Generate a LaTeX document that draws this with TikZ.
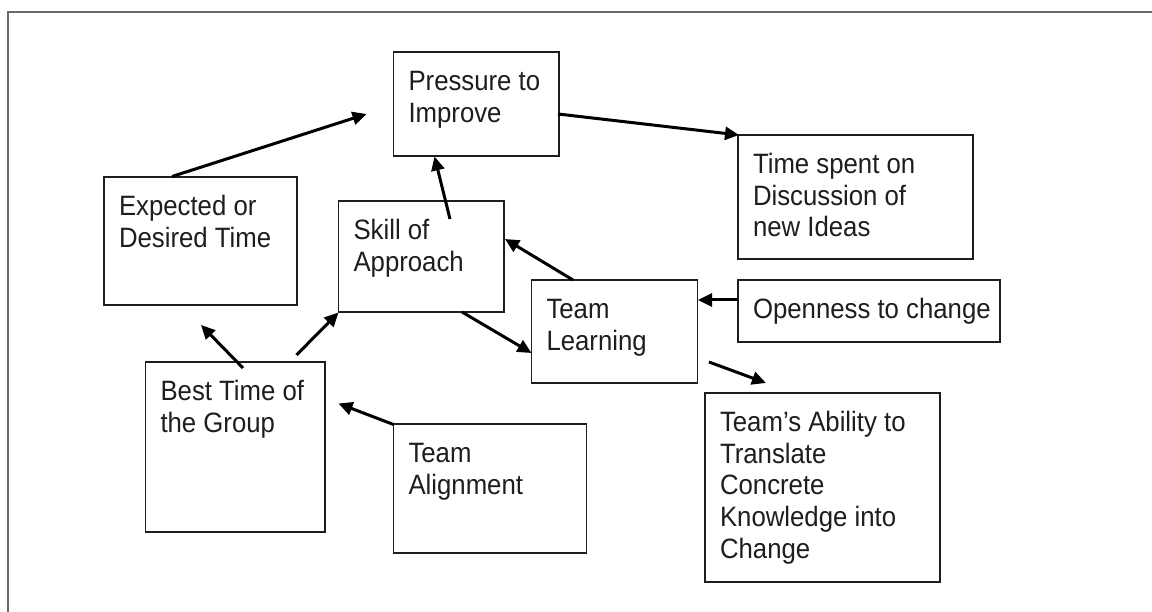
\documentclass[tikz,border=0pt]{standalone}
\usepackage{fontspec}
\setmainfont{Liberation Sans}[FakeStretch=0.92]
\usetikzlibrary{arrows.meta}
\definecolor{ink}{HTML}{1E1E1E}
\definecolor{framec}{HTML}{6A6A6A}
\newcommand{\bt}[3]{\parbox[c][#2pt][t]{#1pt}{\raggedright\leftskip=15pt\relax\rule{0pt}{38.5pt}#3\par}}
\tikzset{
  boxn/.style={draw=ink, line width=1.3pt, inner sep=0pt, outer sep=0pt, anchor=north west,
    text=ink, font=\fontsize{28pt}{31.7pt}\selectfont},
  conn/.style={draw=black, line width=3pt, -{Triangle[length=14pt,width=13pt]}},
}
\begin{document}
\begin{tikzpicture}[x=1pt,y=-1pt]
\useasboundingbox (0,0) rectangle (1152,612);
\fill[white] (0,0) rectangle (1152,612);
% outer frame
\draw[framec, line width=1.3pt] (8,612) -- (8,12) -- (1152,12);
% boxes
\node[boxn] (p) at (393.5,52)  {\bt{165.5}{104}{Pressure to\\Improve}};
\node[boxn] (e) at (104,177)   {\bt{193}{128}{Expected or\\Desired Time}};
\node[boxn] (s) at (338.5,201) {\bt{165.5}{111}{Skill of\\Approach}};
\node[boxn] (tl) at (531.5,280) {\bt{166}{103}{Team\\Learning}};
\node[boxn] (t) at (738,135)   {\bt{235}{124}{Time spent on\\Discussion of\\new Ideas}};
\node[boxn] (o) at (738,280)   {\bt{262}{62}{Openness to change}};
\node[boxn] (b) at (145.5,362) {\bt{179.5}{170}{Best Time of\\the Group}};
\node[boxn] (a) at (393.5,424) {\bt{193}{129}{Team\\Alignment}};
\node[boxn] (k) at (705,393)   {\bt{235}{189}{Team’s Ability to\\Translate\\Concrete\\Knowledge into\\Change}};
% connector end points
\coordinate (a1s) at (172,176.5);  \coordinate (a1e) at (366.5,114);
\coordinate (a2s) at (450,219);    \coordinate (a2e) at (434.5,156.5);
\coordinate (a3s) at (558,114);    \coordinate (a3e) at (739,135);
\coordinate (a4s) at (573,280);    \coordinate (a4e) at (505,239);
\coordinate (a5s) at (738,300);    \coordinate (a5e) at (698,300);
\coordinate (a6s) at (462,312);    \coordinate (a6e) at (531.5,353);
\coordinate (a7s) at (709,362);    \coordinate (a7e) at (766,383);
\coordinate (a8s) at (243,368);    \coordinate (a8e) at (201,325);
\coordinate (a9s) at (296.5,355);  \coordinate (a9e) at (338.5,312.5);
\coordinate (a10s) at (393.5,424.5); \coordinate (a10e) at (338.5,403.5);
% connectors
\draw[conn] (a1s) -- (a1e);
\draw[conn] (a2s) -- (a2e);
\draw[conn] (a3s) -- (a3e);
\draw[conn] (a4s) -- (a4e);
\draw[conn] (a5s) -- (a5e);
\draw[conn] (a6s) -- (a6e);
\draw[conn] (a7s) -- (a7e);
\draw[conn] (a8s) -- (a8e);
\draw[conn] (a9s) -- (a9e);
\draw[conn] (a10s) -- (a10e);
\end{tikzpicture}
\end{document}
